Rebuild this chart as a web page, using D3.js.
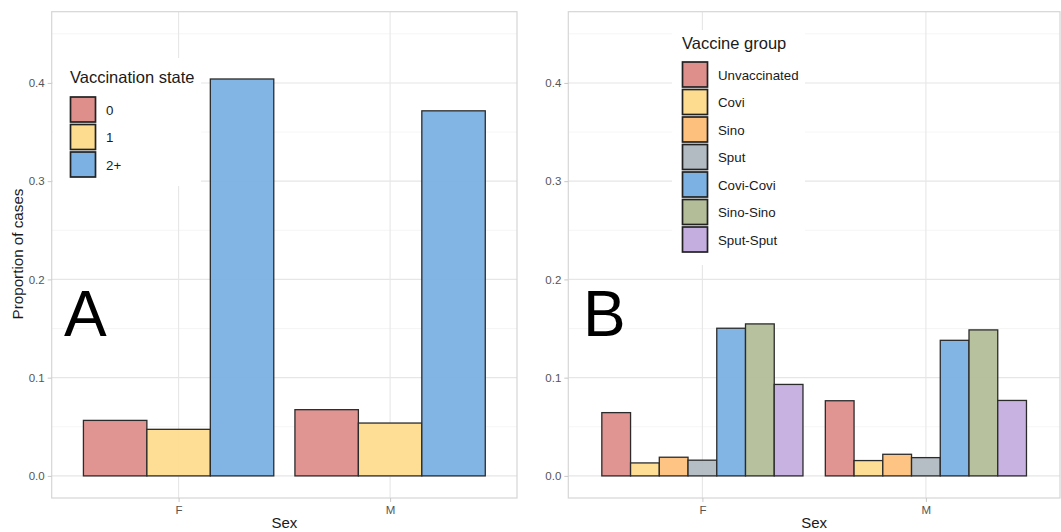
<!DOCTYPE html>
<html>
<head>
<meta charset="utf-8">
<script src="https://cdn.jsdelivr.net/npm/d3@7"></script>
<style>
  body { margin: 0; background: #fff; }
  svg text { font-family: "Liberation Sans", Arial, sans-serif; }
</style>
</head>
<body>
<main></main>
<script>
// Data
let sexes = ['F', 'M']
let yTicks = [0, 0.1, 0.2, 0.3, 0.4]

// Panel A
let statesA = ['0', '1', '2+']
let valuesA_F = [0.0565, 0.0474, 0.404]
let valuesA_M = [0.0674, 0.0538, 0.3716]
let colorsA = ['#de8f8c', '#fedc8f', '#7cb1e3']

// Panel B
let groupsB = ['Unvaccinated', 'Covi', 'Sino', 'Sput', 'Covi-Covi', 'Sino-Sino', 'Sput-Sput']
let valuesB_F = [0.0644, 0.0132, 0.019, 0.016, 0.1503, 0.1547, 0.0931]
let valuesB_M = [0.0765, 0.0156, 0.022, 0.0186, 0.138, 0.1486, 0.0768]
let colorsB = ['#de8f8c', '#fedc8f', '#fdc17d', '#b2bac2', '#7cb1e3', '#b3be98', '#c4aee0']

let svg = d3.select('main')
  .append('svg')
  .attr('width', 1061)
  .attr('height', 532)

let y = d3.scaleLinear()
  .domain([-0.0225, 0.4725])
  .range([498, 11.7])

function drawPanel(p) {
  let g = svg.append('g')
  let x = d3.scalePoint()
    .domain(sexes)
    .range([p.left, p.right])
    .padding(0.6)
  let unit = x.step()

  // grid
  let minor = [0.05, 0.15, 0.25, 0.35, 0.45]
  g.selectAll('.minor').data(minor).enter().append('line')
    .attr('x1', p.left).attr('x2', p.right)
    .attr('y1', d => y(d)).attr('y2', d => y(d))
    .attr('stroke', '#eeeeee').attr('stroke-width', 0.6)
  g.selectAll('.major').data(yTicks).enter().append('line')
    .attr('x1', p.left).attr('x2', p.right)
    .attr('y1', d => y(d)).attr('y2', d => y(d))
    .attr('stroke', '#e6e6e6').attr('stroke-width', 1.1)
  g.selectAll('.vgrid').data(sexes).enter().append('line')
    .attr('x1', d => x(d)).attr('x2', d => x(d))
    .attr('y1', y.range()[1]).attr('y2', y.range()[0])
    .attr('stroke', '#e6e6e6').attr('stroke-width', 1.1)

  // bars
  let inner = d3.scaleBand()
    .domain(p.keys)
    .range([-unit * 0.45, unit * 0.45])
  let rows = []
  sexes.forEach((s, i) => {
    p.keys.forEach((k, j) => rows.push({sex: s, key: k, value: p.values[i][j], color: p.colors[j]}))
  })
  g.selectAll('rect.bar').data(rows).enter().append('rect')
    .attr('class', 'bar')
    .attr('x', d => x(d.sex) + inner(d.key))
    .attr('y', d => y(d.value))
    .attr('width', inner.bandwidth())
    .attr('height', d => y(0) - y(d.value))
    .attr('fill', d => d.color)
    .attr('fill-opacity', 0.95)
    .attr('stroke', '#2b2b2b')
    .attr('stroke-width', 1.3)

  // border
  g.append('rect')
    .attr('x', p.left).attr('y', y.range()[1])
    .attr('width', p.right - p.left).attr('height', y.range()[0] - y.range()[1])
    .attr('fill', 'none').attr('stroke', '#d6d6d6').attr('stroke-width', 1.2)

  // axes
  let ay = g.append('g')
    .attr('transform', `translate(${p.left},0)`)
    .call(d3.axisLeft(y).tickValues(yTicks).tickFormat(d3.format('.1f')).tickSize(4).tickPadding(3))
  ay.select('.domain').remove()
  ay.selectAll('line').attr('stroke', '#c8c8c8')
  ay.selectAll('text').attr('fill', '#555').style('font-size', '11.5px')

  let ax = g.append('g')
    .attr('transform', `translate(0,${y.range()[0]})`)
    .call(d3.axisBottom(x).tickSize(4).tickPadding(4))
  ax.select('.domain').remove()
  ax.selectAll('line').attr('stroke', '#c8c8c8')
  ax.selectAll('text').attr('fill', '#555').style('font-size', '11.5px')

  g.append('text')
    .attr('x', (p.left + p.right) / 2).attr('y', 528)
    .attr('text-anchor', 'middle')
    .style('font-size', '15px').attr('fill', '#1a1a1a')
    .text('Sex')

  // big letter
  g.append('text')
    .attr('x', p.letterX).attr('y', 336)
    .style('font-size', '64px').attr('fill', '#000')
    .text(p.letter)

  // legend
  let lg = g.append('g')
  lg.append('rect')
    .attr('x', p.leg.x).attr('y', p.leg.y)
    .attr('width', p.leg.w).attr('height', p.leg.h)
    .attr('fill', '#fff')
  lg.append('text')
    .attr('x', p.leg.kx + 1).attr('y', p.leg.titleY)
    .style('font-size', '16.5px').attr('fill', '#1a1a1a')
    .text(p.title)
  let step = 27.5
  p.keys.forEach((k, j) => {
    let ky = p.leg.ky + j * step
    lg.append('rect')
      .attr('x', p.leg.kx + 1.5).attr('y', ky + 1)
      .attr('width', 25).attr('height', 25)
      .attr('fill', p.colors[j])
      .attr('stroke', '#222').attr('stroke-width', 1.7)
    lg.append('text')
      .attr('x', p.leg.kx + 37).attr('y', ky + 18.5)
      .style('font-size', '13.3px').attr('fill', '#1a1a1a')
      .text(k)
  })
}

drawPanel({
  left: 51.7, right: 517, keys: statesA, values: [valuesA_F, valuesA_M], colors: colorsA,
  letter: 'A', letterX: 64, title: 'Vaccination state',
  leg: {x: 53, y: 58, w: 148, h: 128, kx: 69, titleY: 83, ky: 96}
})
drawPanel({
  left: 568.3, right: 1060, keys: groupsB, values: [valuesB_F, valuesB_M], colors: colorsB,
  letter: 'B', letterX: 583, title: 'Vaccine group',
  leg: {x: 672, y: 30, w: 133, h: 235, kx: 681, titleY: 49, ky: 61}
})

// shared y title
svg.append('text')
  .attr('transform', 'translate(23,254) rotate(-90)')
  .attr('text-anchor', 'middle')
  .style('font-size', '15.2px').attr('fill', '#1a1a1a')
  .text('Proportion of cases')
</script>
</body>
</html>
